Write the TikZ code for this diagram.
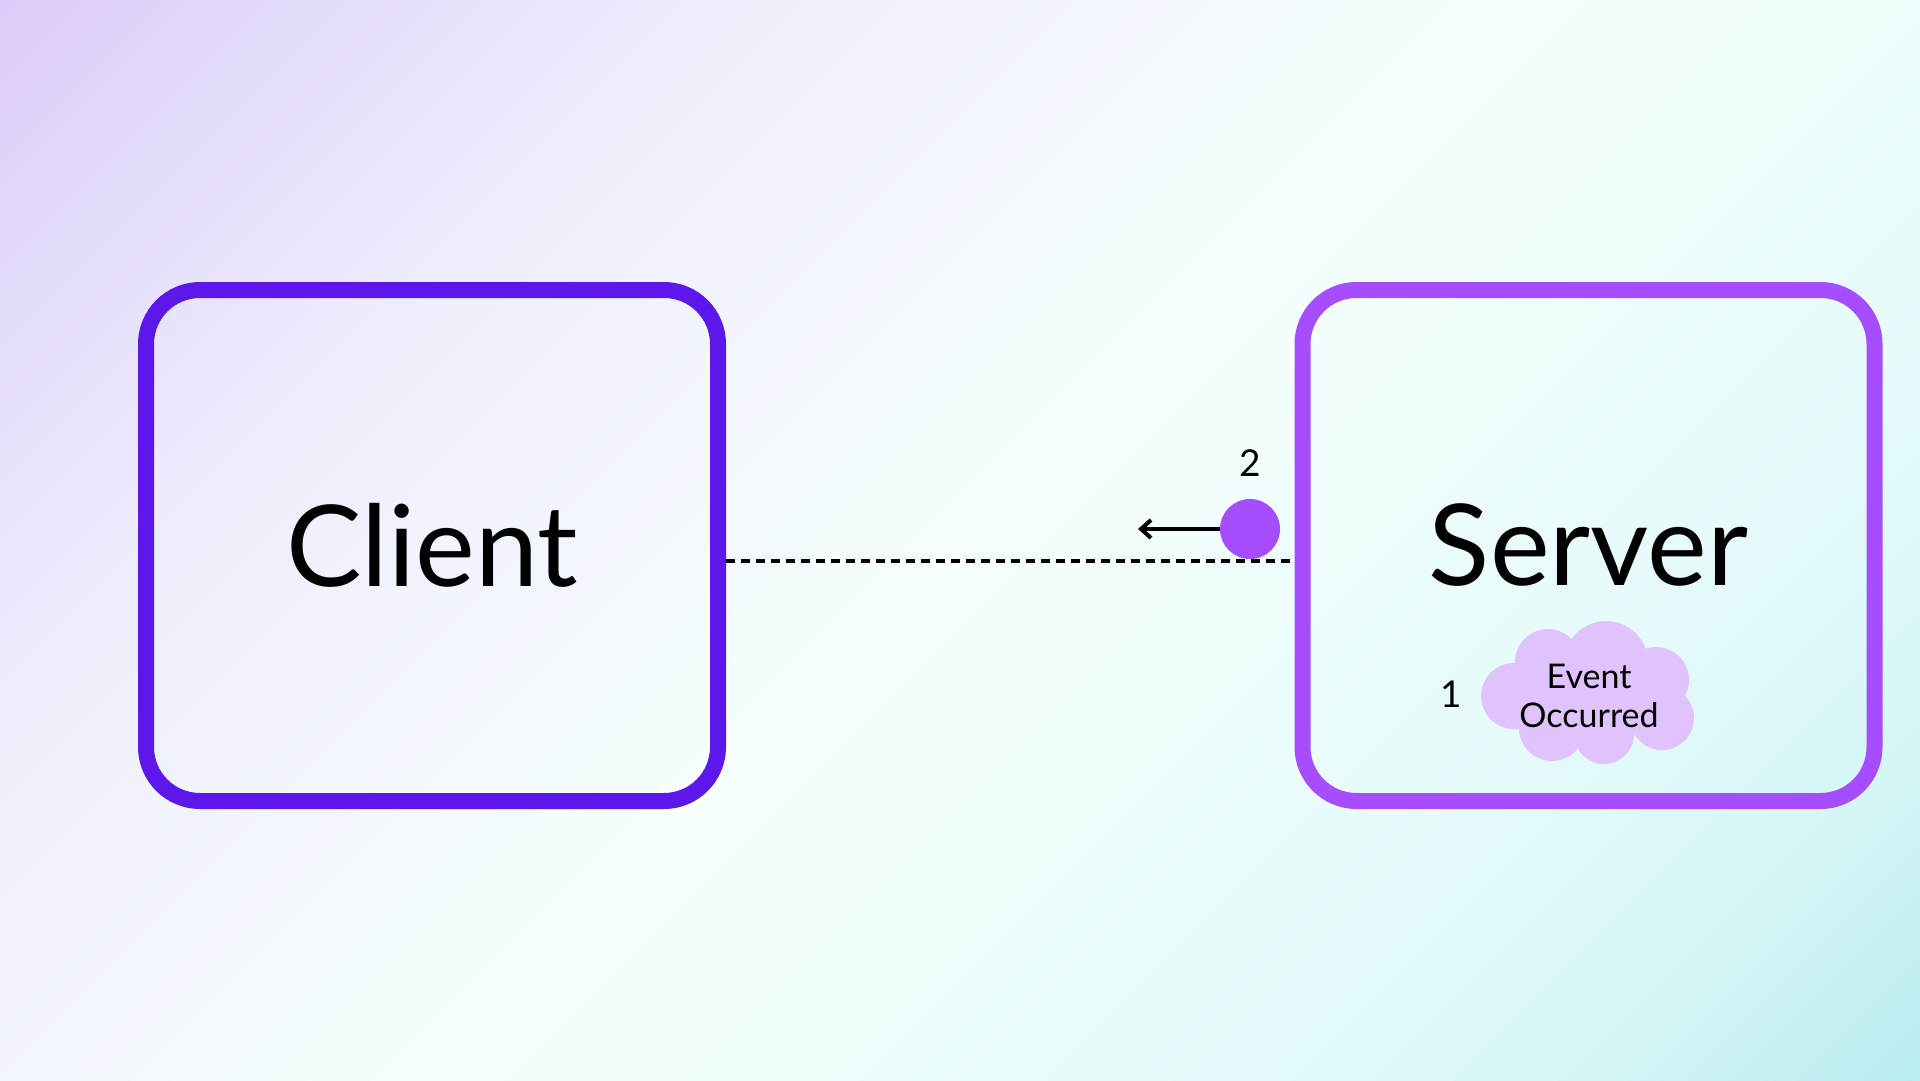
\documentclass[tikz,border=0pt]{standalone}
\usepackage{fontspec}
\setmainfont{Lato}
\usetikzlibrary{arrows.meta}
\definecolor{clientc}{RGB}{94,23,235}
\definecolor{serverc}{RGB}{166,77,255}
\definecolor{cloudc}{RGB}{224,195,252}
\definecolor{bgA}{RGB}{220,204,249}
\definecolor{bgB}{RGB}{238,237,252}
\definecolor{bgC}{RGB}{246,255,254}
\definecolor{bgD}{RGB}{228,250,250}
\definecolor{bgE}{RGB}{211,245,246}
\definecolor{bgF}{RGB}{186,236,238}
\pgfdeclarehorizontalshading{bgshade}{100bp}{color(0bp)=(bgA); color(14.6bp)=(bgA); color(30.9bp)=(bgB); color(50bp)=(bgC); color(69.8bp)=(bgD); color(78.2bp)=(bgE); color(85.4bp)=(bgF); color(100bp)=(bgF)}
\tikzset{
  box/.style={draw, rounded corners=54pt, line width=16pt, minimum width=572pt, minimum height=511pt, inner sep=0pt, font=\fontsize{113}{125}\selectfont},
  num/.style={font=\fontsize{37}{40}\selectfont, inner sep=0pt},
  puff/.style={fill=cloudc, draw=none},
}
\begin{document}
\begin{tikzpicture}[x=1pt,y=-1pt]
\useasboundingbox (0,0) rectangle (1920,1080);
\shade[shading=bgshade, shading angle=-45] (0,0) rectangle (1920,1080);
\node[box, draw=clientc] (client) at (432,545.5) {Client};
\node[box, draw=serverc] (server) at (1588.5,545.5) {Server};
\draw[line width=3.5pt, dash pattern=on 9pt off 6pt] ([yshift=-15.5pt]client.east) -- ([yshift=-15.5pt]server.west);
\node[circle, fill=serverc, minimum size=60pt, inner sep=0pt] (dot) at (1250,529) {};
\coordinate (tip) at (1138,529);
\draw[line width=4pt, -{Straight Barb[length=10pt,width=18pt]}] (dot.west) -- (tip);
\node[num] (two) at (1250,463) {2};
% cloud
\fill[puff] (1514,696) circle (33);
\fill[puff] (1548,662) circle (33);
\fill[puff] (1606,663) circle (42);
\fill[puff] (1656,680) circle (33);
\fill[puff] (1662,718) circle (32);
\fill[puff] (1604,734) circle (30);
\fill[puff] (1552,728) circle (33);
\fill[puff] (1590,700) ellipse (80 and 42);
\node[align=center, inner sep=0pt, font=\fontsize{34}{39}\selectfont] (cloud) at (1589,696) {Event\\Occurred};
\node[num] (one) at (1451,694) {1};
\end{tikzpicture}
\end{document}
